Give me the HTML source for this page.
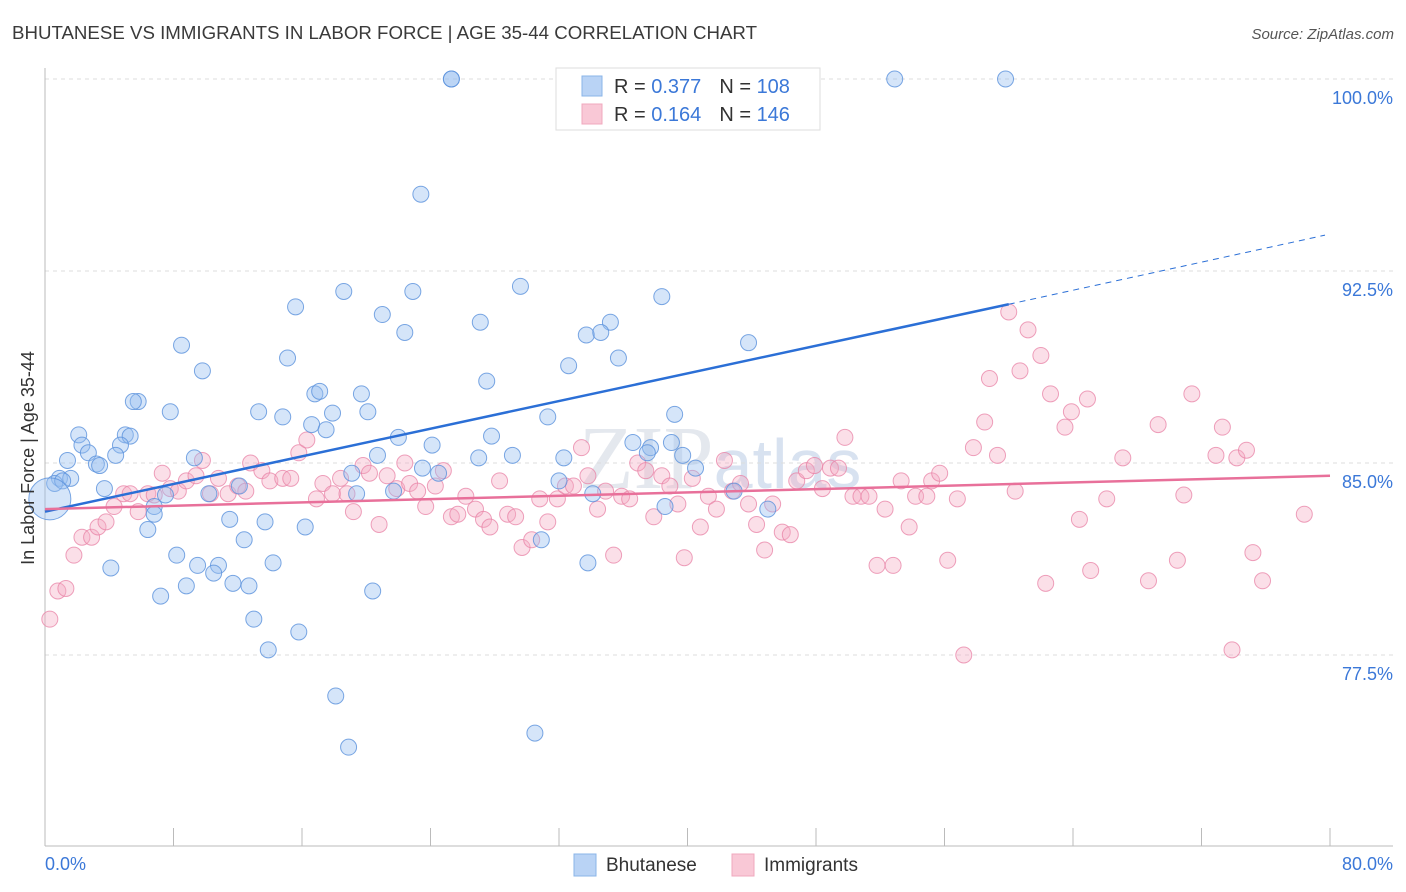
<!DOCTYPE html>
<html><head><meta charset="utf-8"><style>
body{margin:0;background:#fff;font-family:"Liberation Sans",sans-serif;}
svg{display:block}
</style></head><body>
<svg id="chart" width="1406" height="892">
<text x="12" y="39" font-size="18" fill="#3a3a3a" textLength="745" lengthAdjust="spacingAndGlyphs">BHUTANESE VS IMMIGRANTS IN LABOR FORCE | AGE 35-44 CORRELATION CHART</text>
<text x="1394" y="39" font-size="15" fill="#555" font-style="italic" text-anchor="end">Source: ZipAtlas.com</text>
<text x="720" y="488" font-size="90" fill="#e4e8ee" text-anchor="middle" font-family="Liberation Serif,serif">ZIP<tspan font-family="Liberation Sans,sans-serif" font-size="70" fill="#d8e2f0">atlas</tspan></text>
<g id="grid"></g>
<g id="axes"></g>
<g id="pts"></g>
<g id="lines"></g>
<text transform="translate(34,458) rotate(-90)" font-size="18" fill="#333" text-anchor="middle">In Labor Force | Age 35-44</text>
<g>
<rect x="556" y="68" width="264" height="62" fill="#fff" stroke="#ddd"/>
<rect x="582" y="76" width="20" height="20" fill="#b9d3f5" stroke="#8ab4e8"/>
<rect x="582" y="104" width="20" height="20" fill="#f9c8d6" stroke="#f0a8be"/>
<text x="614" y="93" font-size="20" fill="#333">R = <tspan fill="#3b78d8">0.377</tspan><tspan dx="18">N = </tspan><tspan fill="#3b78d8">108</tspan></text>
<text x="614" y="121" font-size="20" fill="#333">R = <tspan fill="#3b78d8">0.164</tspan><tspan dx="18">N = </tspan><tspan fill="#3b78d8">146</tspan></text>
</g>
<g>
<rect x="574" y="854" width="22" height="22" fill="#b9d3f5" stroke="#8ab4e8"/>
<text x="606" y="871" font-size="19" fill="#333">Bhutanese</text>
<rect x="732" y="854" width="22" height="22" fill="#f9c8d6" stroke="#f0a8be"/>
<text x="764" y="871" font-size="19" fill="#333">Immigrants</text>
</g>
</svg>
<script>
const yTicks=[100,92.5,85,77.5];
const yTickLabels=["100.0%","92.5%","85.0%","77.5%"];
const xTickLabels=["0.0%","80.0%"];
const blueX=[25.3,25.3,52.9,59.8,23.4,29.6,15.6,18.6,22.9,21.0,22.4,27.1,38.4,35.2,33.7,34.6,35.7,43.8,8.5,9.8,15.1,32.6,27.5,16.8,17.1,19.7,5.8,5.5,7.8,13.3,14.8,17.9,20.1,31.3,39.2,16.6,17.5,2.1,5.0,5.3,22.0,27.8,24.1,2.3,4.7,2.7,4.4,9.3,20.7,29.1,27.0,32.3,36.6,39.0,37.7,37.5,39.7,1.4,3.2,3.4,23.5,24.5,19.1,40.5,0.9,0.6,1.6,1.1,3.7,7.5,10.2,12.1,19.4,21.7,32.0,34.1,42.9,6.8,6.8,6.4,11.5,13.7,16.2,12.4,30.9,38.6,45.0,8.2,14.2,4.1,9.5,10.8,10.5,33.8,7.2,8.8,11.7,12.7,20.4,13.0,15.8,13.9,18.1,18.9,30.5,0.3];
const blueY=[100,100,100,100,95.5,91.9,91.1,91.7,91.7,90.8,90.1,90.5,91.5,90.5,90.0,90.1,89.1,89.7,89.6,88.6,89.1,88.8,88.2,87.7,87.8,87.7,87.4,87.4,87.0,87.0,86.8,86.95,87.0,86.8,86.9,86.5,86.3,86.1,86.1,86.05,86.0,86.05,85.7,85.7,85.7,85.4,85.3,85.2,85.3,85.3,85.2,85.2,85.8,85.8,85.6,85.4,85.3,85.1,84.96,84.9,84.8,84.6,84.6,84.8,84.4,84.2,84.4,84.3,84.0,83.75,83.8,84.1,83.8,83.9,84.3,83.8,83.9,83.3,83.0,82.4,82.8,82.7,82.5,82.0,82.0,83.3,83.2,81.4,81.1,80.9,81.0,81.0,80.7,81.1,79.8,80.2,80.3,80.2,80.0,78.9,78.4,77.7,75.9,73.9,74.45,83.6];
const blueSize=blueX.map((v,i)=>i===blueX.length-1?21:8);
const pinkX=[0.3,0.8,1.3,1.8,2.3,2.9,3.3,3.8,4.3,4.9,5.3,5.8,6.4,6.8,7.3,7.8,8.3,8.8,9.4,9.8,10.3,10.8,11.4,12.0,12.5,12.8,13.5,14.0,14.8,15.3,15.8,16.3,16.9,17.3,17.9,18.4,18.8,19.2,19.8,20.2,20.8,21.3,21.9,22.4,22.7,23.2,23.7,24.3,24.8,25.3,25.7,26.2,26.8,27.3,27.7,28.3,28.8,29.3,29.7,30.3,30.8,31.3,31.9,32.4,32.9,33.4,33.8,34.4,34.9,35.4,35.9,36.4,36.9,37.4,37.9,38.4,38.9,39.4,39.8,40.3,40.8,41.3,41.8,42.3,42.8,43.3,43.8,44.3,44.8,45.3,45.9,46.4,46.8,47.4,47.9,48.4,48.9,49.4,49.8,50.3,50.8,51.3,51.8,52.3,52.8,53.3,53.8,54.2,54.9,55.2,55.7,56.2,56.8,57.2,57.8,58.5,59.3,58.8,60.0,60.4,60.7,61.2,62.0,62.3,62.6,63.5,63.9,64.4,64.9,65.1,66.1,67.1,68.7,69.3,70.5,70.9,71.4,72.9,73.3,73.9,74.2,74.8,75.2,75.8,78.4];
const pinkY=[78.9,80.0,80.1,81.4,82.1,82.1,82.5,82.7,83.3,83.8,83.8,83.1,83.8,83.75,84.6,84.0,83.9,84.3,84.5,85.1,83.8,84.4,83.8,84.1,83.9,85.0,84.7,84.3,84.4,84.4,85.4,85.9,83.6,84.2,83.8,84.4,83.8,83.1,84.9,84.6,82.6,84.5,84.0,85.0,84.2,83.9,83.3,84.1,84.7,82.9,83.0,83.7,83.2,82.8,82.5,84.3,83.0,82.9,81.7,82.0,83.6,82.7,83.6,84.1,84.1,85.6,84.5,83.2,83.9,81.4,83.7,83.6,85.0,84.7,82.9,84.5,84.1,83.4,81.3,84.4,82.5,83.7,83.2,85.1,83.9,84.2,83.4,82.6,81.6,83.4,82.3,82.2,84.3,84.7,84.9,84.0,84.8,84.8,86.0,83.7,83.7,83.7,81.0,83.2,81.0,84.3,82.5,83.7,83.7,84.3,84.6,81.2,83.6,77.5,85.6,86.6,85.3,88.3,90.9,83.9,88.6,90.2,89.2,80.3,87.7,86.4,87.0,82.8,87.5,80.8,83.6,85.2,80.4,86.5,81.2,83.75,87.7,85.3,86.4,77.7,85.2,85.5,81.5,80.4,83.0];
const blueTrendX=[0,60,80];
const blueTrendY=[83.1,91.2,93.9];
const pinkTrendX=[0,80];
const pinkTrendY=[83.2,84.5];

const NS="http://www.w3.org/2000/svg";
const X0=45,X1=1330,Ytop=79,PXPER=25.6;
const sx=v=>X0+(v/80)*(X1-X0);
const sy=v=>Ytop+(100-v)*PXPER;
function mk(tag,attrs,parent){const e=document.createElementNS(NS,tag);for(const k in attrs)e.setAttribute(k,attrs[k]);parent.appendChild(e);return e;}
const grid=document.getElementById('grid'),axes=document.getElementById('axes'),pts=document.getElementById('pts'),lines=document.getElementById('lines');
yTicks.forEach((t,i)=>{
 const l=mk('line',{x1:X0,x2:1393,y1:sy(t),y2:sy(t),stroke:'#ddd','stroke-dasharray':'4,4'},grid);
 
 
 const tx=mk('text',{x:1393,y:sy(t)+25,'font-size':18,fill:'#3b78d8','text-anchor':'end'},axes);
 tx.textContent=yTickLabels[i];
 
 
});
const ax=mk('line',{x1:X0,x2:X0,y1:68,y2:846,stroke:'#bbb'},axes);


const bx=mk('line',{x1:X0,x2:1393,y1:846,y2:846,stroke:'#bbb'},axes);


for(let i=0;i<=10;i++){
 const t=mk('line',{x1:sx(i*8),x2:sx(i*8),y1:828,y2:846,stroke:'#bbb'},axes);
 
 
}
[[0,'start',45],[80,'end',1393]].forEach((d,i)=>{
 const t=mk('text',{x:d[2],y:870,'font-size':18,fill:'#3b78d8','text-anchor':d[1]},axes);
 t.textContent=xTickLabels[i];
 
 
});
pinkX.forEach((x,i)=>{
 const c=mk('circle',{cx:sx(x),cy:sy(pinkY[i]),r:8,fill:'rgba(245,170,195,0.38)',stroke:'rgba(232,130,165,0.75)','stroke-width':1},pts);
 
 
});
blueX.forEach((x,i)=>{
 const c=mk('circle',{cx:sx(x),cy:sy(blueY[i]),r:blueSize[i],fill:'rgba(150,190,240,0.4)',stroke:'rgba(90,145,220,0.8)','stroke-width':1},pts);
 
 
});
const b1=mk('line',{x1:sx(blueTrendX[0]),y1:sy(blueTrendY[0]),x2:sx(blueTrendX[1]),y2:sy(blueTrendY[1]),stroke:'#2b6fd6','stroke-width':2.5},lines);


const b2=mk('line',{x1:sx(blueTrendX[1]),y1:sy(blueTrendY[1]),x2:sx(blueTrendX[2])-5,y2:sy(blueTrendY[2]),stroke:'#2b6fd6','stroke-width':1,'stroke-dasharray':'6,5'},lines);


const p1=mk('line',{x1:sx(pinkTrendX[0]),y1:sy(pinkTrendY[0]),x2:sx(pinkTrendX[1]),y2:sy(pinkTrendY[1]),stroke:'#e8709a','stroke-width':2.5},lines);


</script>
</body></html>
